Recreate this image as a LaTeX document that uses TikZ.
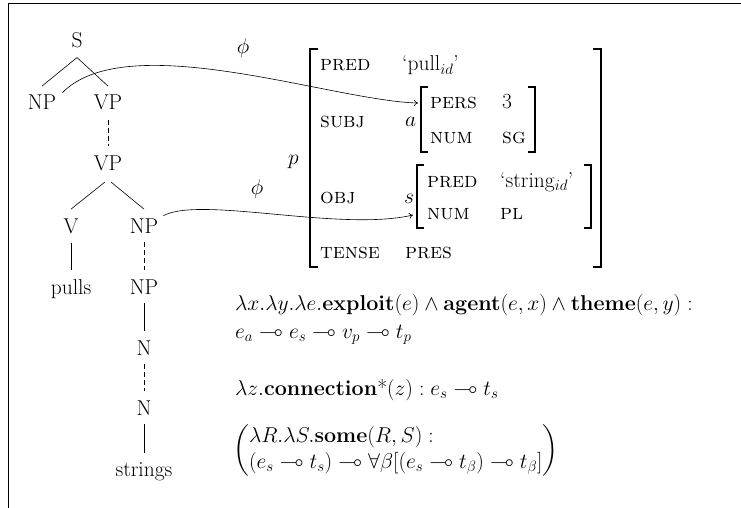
\RequirePackage{fix-cm}
\documentclass[tikz,border=0pt]{standalone}
\usepackage{amssymb}
\usetikzlibrary{arrows.meta}
\begin{document}
\begin{tikzpicture}[x=1pt,y=-1pt,
  every node/.style={font=\fontsize{21.5}{26}\selectfont},
  tn/.style={anchor=base,inner xsep=2pt,inner ysep=9pt},
  av/.style={anchor=base west,inner sep=0pt},
  fm/.style={anchor=base west,inner sep=0pt},
  br/.style={line width=1.1pt},
  treeline/.style={line width=0.6pt},
  dline/.style={line width=0.6pt,dash pattern=on 5pt off 3pt},
  phiarrow/.style={line width=0.6pt,-{To[length=4pt,width=6pt]}}
]
\useasboundingbox (0,0) rectangle (741,508);
\draw[line width=1pt] (741,4) -- (8,4) -- (8,508);

% tree
\node[tn] (S) at (77,48) {S};
\node[tn] (NPs) at (42,110) {NP};
\node[tn] (VPs) at (108,110) {VP};
\node[tn] (VP2) at (108,170) {VP};
\node[tn] (V) at (71,233) {V};
\node[tn] (NPo) at (144,233) {NP};
\node[tn] (pulls) at (71,294) {pulls};
\node[tn] (NP3) at (144,294) {NP};
\node[tn] (N1) at (144,355) {N};
\node[tn] (N2) at (144,415) {N};
\node[tn] (strings) at (144,476) {strings};

\draw[treeline] (NPs.north) -- (S.south) -- (VPs.north);
\draw[dline] (VPs.south) -- (VP2.north);
\draw[treeline,shorten <=4pt] (VP2.south) -- (V.north);
\draw[treeline,shorten <=4pt] (VP2.south) -- (NPo.north);
\draw[treeline] (V.south) -- (pulls.north);
\draw[dline] (NPo.south) -- (NP3.north);
\draw[treeline] (NP3.south) -- (N1.north);
\draw[dline] (N1.south) -- (N2.north);
\draw[treeline] (N2.south) -- (strings.north);

% outer AVM
\draw[br] (318,49) -- (310,49) -- (310,267) -- (318,267);
\draw[br] (593,49) -- (601,49) -- (601,267) -- (593,267);
\node[av] (p) at (288,164) {$p$};
\node[av] (pred1) at (320,71) {\textsc{pred}};
\node[av] (pullv) at (402,71) {\textquoteleft pull$_{id}$\textquoteright};
\node[av] (subj) at (320,128) {\textsc{subj}};
\node[av] (obj) at (320,203) {\textsc{obj}};
\node[av] (tense) at (320,258) {\textsc{tense}};
\node[av] (pres) at (405,258) {\textsc{pres}};

% inner AVM a
\node[av] (a) at (405,127) {$a$};
\draw[br] (428,87) -- (421,87) -- (421,152) -- (428,152);
\draw[br] (528,87) -- (535,87) -- (535,152) -- (528,152);
\node[av] (pers) at (430,109) {\textsc{pers}};
\node[av] (three) at (502,109) {3};
\node[av] (num1) at (430,143) {\textsc{num}};
\node[av] (sg) at (502,143) {\textsc{sg}};

% inner AVM s
\node[av] (s) at (404,203) {$s$};
\draw[br] (424,165) -- (417,165) -- (417,228) -- (424,228);
\draw[br] (584,165) -- (591,165) -- (591,228) -- (584,228);
\node[av] (pred2) at (427,187) {\textsc{pred}};
\node[av] (stringv) at (500,187) {\textquoteleft string$_{id}$\textquoteright};
\node[av] (num2) at (427,219) {\textsc{num}};
\node[av] (pl) at (500,219) {\textsc{pl}};

% phi arrows
\coordinate (fa) at (418,103);
\coordinate (fs) at (413,215);
\draw[phiarrow] ([shift={(4,-10)}]NPs.east) .. controls +(65,-66) and +(-85,-2) .. (fa);
\draw[phiarrow] ([shift={(3,-10)}]NPo.east) .. controls +(37,-20) and +(-73,17) .. (fs);
\node (phi1) at (243,48) {$\phi$};
\node (phi2) at (257,189) {$\phi$};

% formulas
\node[fm] (f1) at (235,310) {$\lambda x.\lambda y.\lambda e.\textbf{exploit}(e)\wedge\textbf{agent}(e,x)\wedge\textbf{theme}(e,y):$};
\node[fm] (f2) at (235,338) {$e_a\multimap e_s\multimap v_p\multimap t_p$};
\node[fm] (f3) at (235,395) {$\lambda z.\textbf{connection}\mbox{*}(z): e_s\multimap t_s$};
\node[fm,anchor=west] (f4) at (233,450) {$\left(\begin{array}{@{}l@{}}\lambda R.\lambda S.\textbf{some}(R,S):\\(e_s\multimap t_s)\multimap\forall\beta[(e_s\multimap t_\beta)\multimap t_\beta]\end{array}\right)$};
\end{tikzpicture}
\end{document}
